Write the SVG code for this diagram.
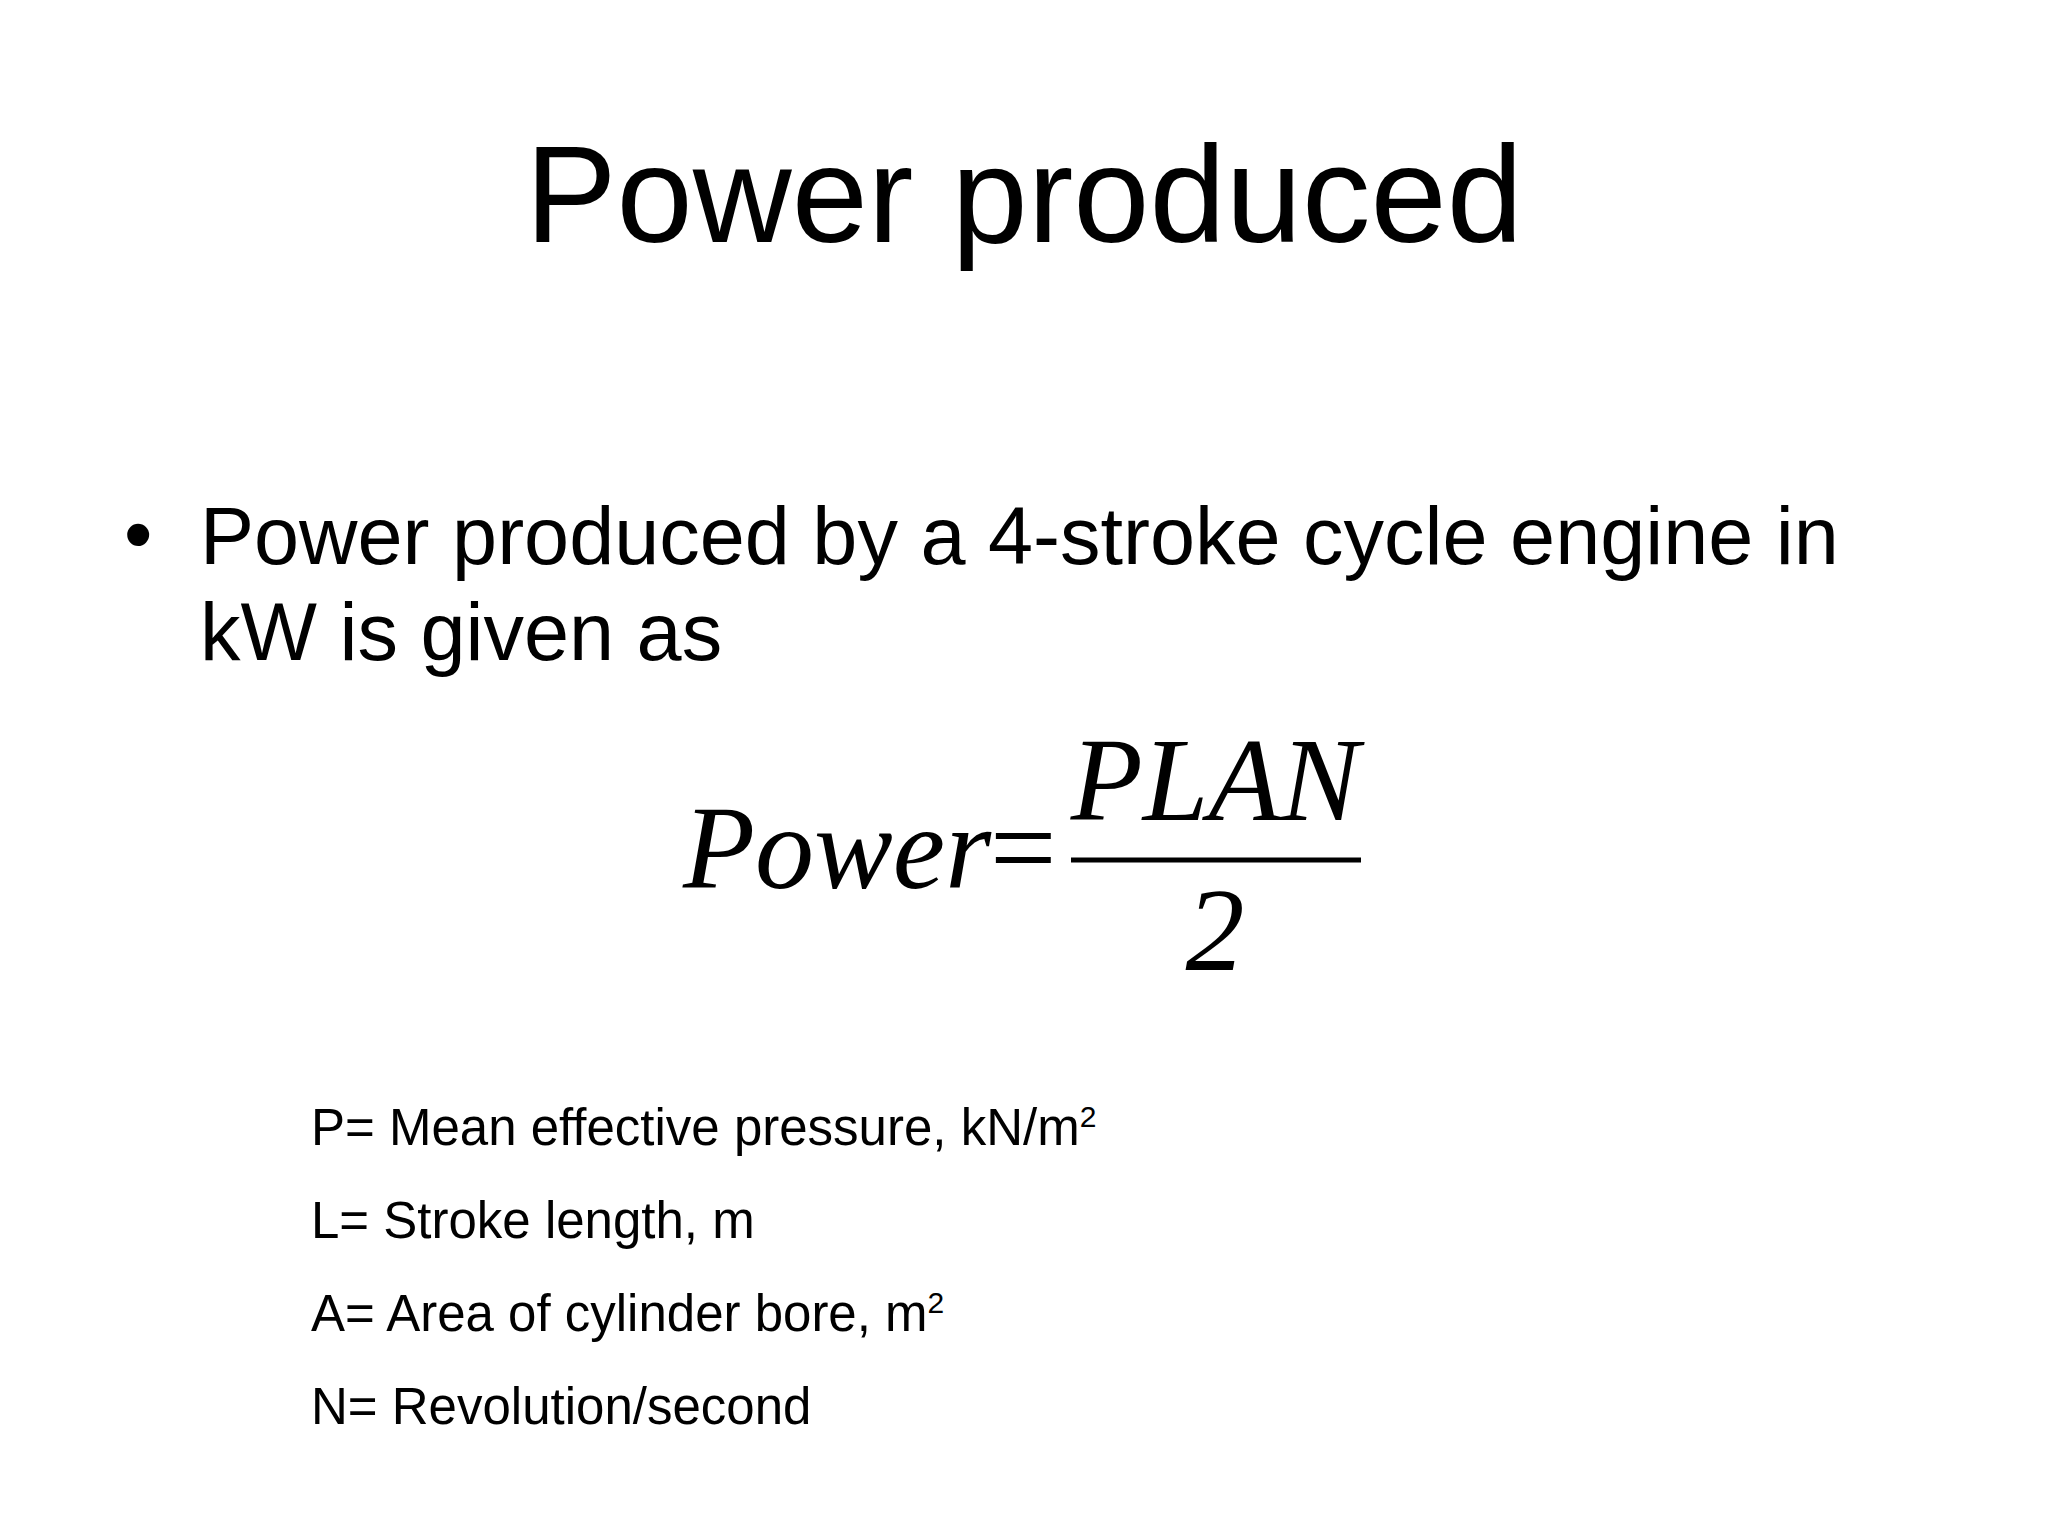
<svg xmlns="http://www.w3.org/2000/svg" width="2048" height="1536" viewBox="0 0 2048 1536">
<style>
.s{font-family:"Liberation Sans",Arial,sans-serif;fill:#000}
.m{font-family:"Liberation Serif","Times New Roman",serif;fill:#000}
.d{font-size:51px}
</style>
<rect width="2048" height="1536" fill="#fff"/>
<g id="title"><text class="s" x="1024" y="242" font-size="137" text-anchor="middle">Power produced</text></g>
<g id="bullet">
<text class="s" x="124" y="562" font-size="81">•</text>
<text class="s" x="200" y="564" font-size="81">Power produced by a 4-stroke cycle engine in</text>
<text class="s" x="200" y="660" font-size="81">kW is given as</text>
</g>
<g id="formula">
<text class="m" x="683" y="888" font-size="118" font-style="italic">Power</text>
<text class="m" x="990" y="888" font-size="118">=</text>
<line x1="1071" y1="860" x2="1361" y2="860" stroke="#000" stroke-width="5"/>
<text class="m" x="1215" y="820" font-size="118" font-style="italic" text-anchor="middle">PLAN</text>
<text class="m" x="1215" y="970" font-size="118" font-style="italic" text-anchor="middle">2</text>
</g>
<g id="defs">
<text class="s d" x="311" y="1145">P= Mean effective pressure, kN/m<tspan font-size="30" dy="-18">2</tspan></text>
<text class="s d" x="311" y="1238">L= Stroke length, m</text>
<text class="s d" x="311" y="1331">A= Area of cylinder bore, m<tspan font-size="30" dy="-18">2</tspan></text>
<text class="s d" x="311" y="1424">N= Revolution/second</text>
</g>
</svg>
